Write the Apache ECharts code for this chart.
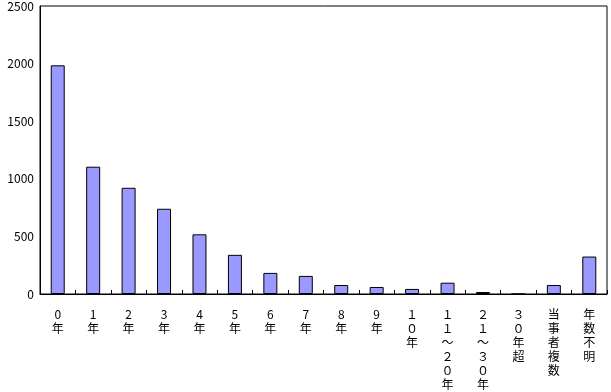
<!DOCTYPE html>
<html><head><meta charset="utf-8">
<script src="https://cdn.jsdelivr.net/npm/echarts@6/dist/echarts.min.js"></script>
<style>html,body{margin:0;padding:0;background:#fff}#c{width:611px;height:392px}</style>
</head><body><div id="c"></div>
<script>
const categories = ["0年","1年","2年","3年","4年","5年","6年","7年","8年","9年","１０年","１１～２０年","２１～３０年","３０年超","当事者複数","年数不明"];
const values = [1985, 1105, 922, 740, 518, 340, 183, 157, 78, 61, 44, 98, 17, 0, 78, 325];
const yTicks = [0, 500, 1000, 1500, 2000, 2500];

const chart = echarts.init(document.getElementById('c'), null, {renderer:'canvas'});
const font = '"Noto Sans CJK JP", "Noto Sans", sans-serif';
chart.setOption({
  animation:false,
  grid:{left:40, right:4, top:6, bottom:98, containLabel:false, outerBoundsMode:'none', show:true, borderColor:'#000', borderWidth:1, backgroundColor:'transparent'},
  xAxis:{
    type:'category', data:categories,
    axisLine:{lineStyle:{color:'#000', width:1}},
    axisTick:{show:true, inside:true, length:4, lineStyle:{color:'#000'}},
    axisLabel:{
      interval:0, color:'#000', fontFamily:font, fontSize:12, lineHeight:14, margin:13,
      formatter:(v)=>Array.from(v).join('\n'), verticalAlign:'top'
    }
  },
  yAxis:{
    type:'value', min:yTicks[0], max:yTicks[yTicks.length-1], interval:500,
    axisLine:{show:true, lineStyle:{color:'#000'}},
    axisTick:{show:false},
    splitLine:{show:false},
    axisLabel:{color:'#000', fontFamily:font, fontSize:12, margin:6, formatter:(v)=>String(v)}
  },
  series:[{
    type:'bar', data:values, barWidth:14,
    itemStyle:{color:'#9999FF', borderColor:'#000', borderWidth:1}
  }]
});
</script></body></html>
